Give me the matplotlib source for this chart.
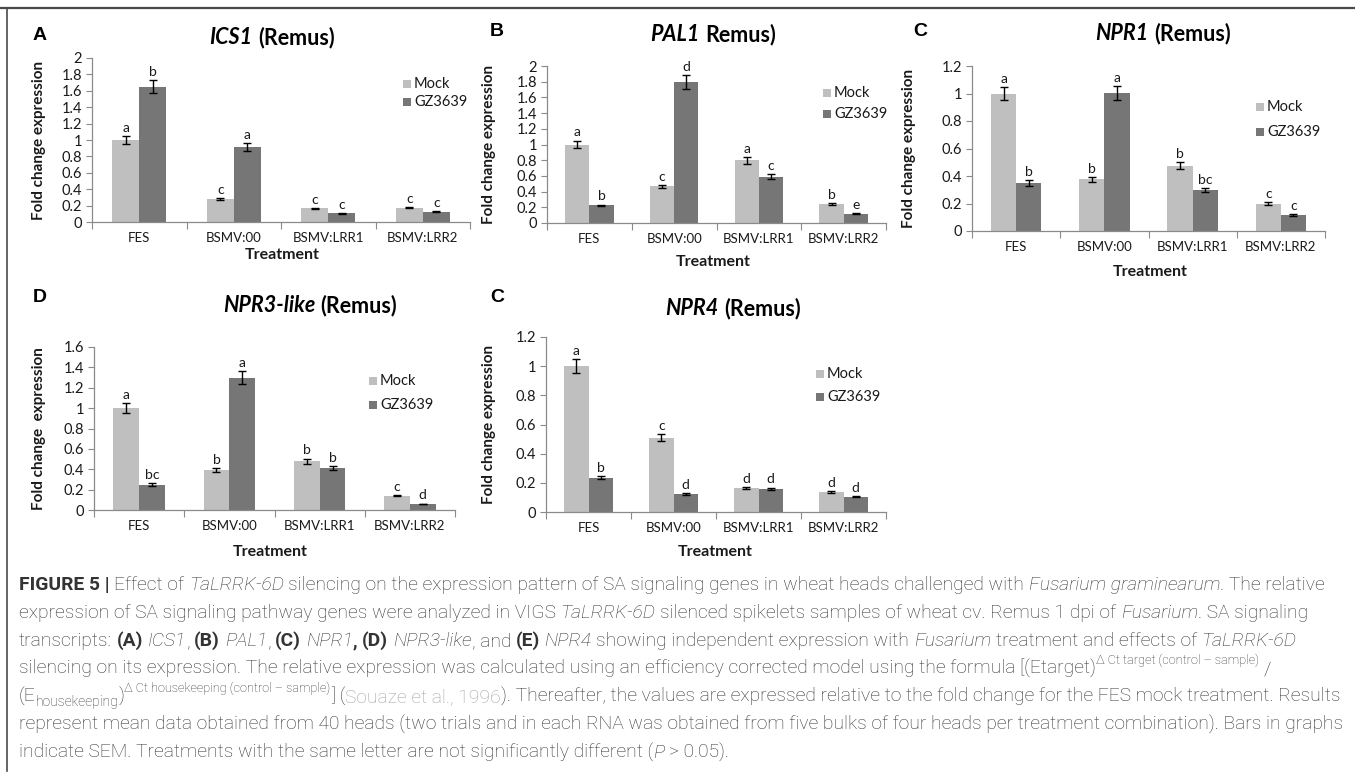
import numpy as np
import matplotlib
matplotlib.use('Agg')
import matplotlib.pyplot as plt
from matplotlib import font_manager
from matplotlib.lines import Line2D
from matplotlib.patches import Rectangle

W, H = 1355, 775

treatments = ['FES', 'BSMV:00', 'BSMV:LRR1', 'BSMV:LRR2']
series = ['Mock', 'GZ3639']

# A - ICS1
ics1_mock = [1.00, 0.28, 0.165, 0.175]
ics1_mock_err = [0.05, 0.015, 0.008, 0.010]
ics1_gz = [1.65, 0.91, 0.105, 0.125]
ics1_gz_err = [0.08, 0.05, 0.005, 0.006]
ics1_mock_let = ['a', 'c', 'c', 'c']
ics1_gz_let = ['b', 'a', 'c', 'c']

# B - PAL1
pal1_mock = [1.00, 0.465, 0.80, 0.24]
pal1_mock_err = [0.05, 0.02, 0.045, 0.01]
pal1_gz = [0.225, 1.80, 0.59, 0.12]
pal1_gz_err = [0.01, 0.09, 0.035, 0.005]
pal1_mock_let = ['a', 'c', 'a', 'b']
pal1_gz_let = ['b', 'd', 'c', 'e']

# C - NPR1
npr1_mock = [1.00, 0.375, 0.475, 0.20]
npr1_mock_err = [0.05, 0.02, 0.025, 0.01]
npr1_gz = [0.35, 1.005, 0.30, 0.115]
npr1_gz_err = [0.02, 0.05, 0.015, 0.006]
npr1_mock_let = ['a', 'b', 'b', 'c']
npr1_gz_let = ['b', 'a', 'bc', 'c']

# D - NPR3-like
npr3_mock = [1.00, 0.395, 0.48, 0.14]
npr3_mock_err = [0.05, 0.02, 0.025, 0.006]
npr3_gz = [0.25, 1.30, 0.415, 0.06]
npr3_gz_err = [0.012, 0.065, 0.02, 0.003]
npr3_mock_let = ['a', 'b', 'b', 'c']
npr3_gz_let = ['bc', 'a', 'b', 'd']

# E - NPR4
npr4_mock = [1.00, 0.51, 0.165, 0.138]
npr4_mock_err = [0.05, 0.025, 0.008, 0.007]
npr4_gz = [0.235, 0.125, 0.16, 0.105]
npr4_gz_err = [0.012, 0.006, 0.008, 0.005]
npr4_mock_let = ['a', 'c', 'd', 'd']
npr4_gz_let = ['b', 'd', 'd', 'd']

MOCK_C = '#bfbfbf'
GZ_C = '#767676'
AX_C = '#8a8a8a'
TXT_C = '#1a1a1a'
CAP_C = '#333333'

plt.rcParams['font.family'] = ['Lato', 'DejaVu Sans']

names = {f.name for f in font_manager.fontManager.ttflist}
cap_family = next((f for f in ['Liberation Sans Narrow', 'Roboto', 'Liberation Sans'] if f in names), 'DejaVu Sans')

fig = plt.figure(figsize=(W / 100, H / 100), dpi=100)
renderer = fig.canvas.get_renderer()


def fx(x):
    return x / W


def fy(y):
    return 1 - y / H


def text_w(s, props):
    if s == '':
        return 0.0
    t = fig.text(0, 0, '|' + s + '|', **props)
    w1 = t.get_window_extent(renderer).width
    t.set_text('||')
    w0 = t.get_window_extent(renderer).width
    t.remove()
    return w1 - w0


def seg_props(kind, size, family, color, light=False):
    p = dict(family=family, size=size, color=color, weight='light' if light else 'normal', style='normal')
    dy = 0.0
    if kind in ('b', 'bi'):
        p['weight'] = 'bold'
    if kind in ('i', 'bi'):
        p['style'] = 'italic'
    if kind == 'cite':
        p['color'] = '#a3a3a3'
    if kind == 'sup':
        p['size'] = size * 0.66
        dy = size * 100 / 72 * 0.5
    if kind == 'sub':
        p['size'] = size * 0.72
        dy = -size * 100 / 72 * 0.22
    return p, dy


def rich_line(x, y, segs, size, family, color, ha='left', draw=True, light=False):
    items = []
    total = 0.0
    for s, kind in segs:
        p, dy = seg_props(kind, size, family, color, light)
        core = s.strip(' ')
        lead = s[:len(s) - len(s.lstrip(' '))]
        trail = s[len(s.rstrip(' ')):]
        total += text_w(lead, p)
        items.append((core, p, dy, total))
        total += text_w(core, p) + text_w(trail, p)
    if draw:
        x0 = x - total / 2 if ha == 'center' else x
        for core, p, dy, off in items:
            if core:
                fig.text(fx(x0 + off), fy(y - dy), core, va='baseline', ha='left', **p)
    return total


def px_axes(l, t, r, b):
    return fig.add_axes([fx(l), fy(b), (r - l) / W, (b - t) / H])


def draw_panel(ax, mock, mock_err, gz, gz_err, mock_let, gz_let, ymax, ystep):
    x = np.arange(len(treatments))
    bw = 1 / 3.5
    ekw = dict(ecolor='black', elinewidth=1.0, capsize=3, capthick=1.0)
    ax.bar(x - bw / 2, mock, bw, color=MOCK_C, yerr=mock_err, error_kw=ekw, zorder=2)
    ax.bar(x + bw / 2, gz, bw, color=GZ_C, yerr=gz_err, error_kw=ekw, zorder=2)
    for xs, vals, errs, lets in ((x - bw / 2, mock, mock_err, mock_let), (x + bw / 2, gz, gz_err, gz_let)):
        for xi, v, e, s in zip(xs, vals, errs, lets):
            ax.annotate(s, (xi, v + e), xytext=(0, 1.5), textcoords='offset points',
                        ha='center', va='bottom', fontsize=10, color=TXT_C)
    ax.set_xlim(-0.5, len(treatments) - 0.5)
    ax.set_ylim(0, ymax)
    yt = np.arange(0, ymax + 1e-9, ystep)
    ax.set_yticks(yt)
    ax.set_yticklabels(['%g' % round(v, 2) for v in yt])
    ax.set_xticks(np.arange(-0.5, len(treatments), 1))
    ax.set_xticklabels([])
    ax.set_xticks(x, minor=True)
    ax.set_xticklabels(treatments, minor=True)
    ax.tick_params(axis='x', which='major', length=5, color=AX_C, width=0.8)
    ax.tick_params(axis='x', which='minor', length=0, pad=7, labelsize=9.5, labelcolor=TXT_C)
    ax.tick_params(axis='y', length=4, color=AX_C, width=0.8, labelsize=10.5, labelcolor=TXT_C, pad=3)
    for sp in ('top', 'right'):
        ax.spines[sp].set_visible(False)
    for sp in ('left', 'bottom'):
        ax.spines[sp].set_color(AX_C)
        ax.spines[sp].set_linewidth(0.9)


def legend(x, y, pitch):
    for i, (lab, c) in enumerate(zip(series, [MOCK_C, GZ_C])):
        yy = y + i * pitch
        fig.add_artist(Rectangle((fx(x), fy(yy + 4)), 8 / W, 8 / H, transform=fig.transFigure,
                                 color=c, lw=0))
        fig.text(fx(x + 11), fy(yy), lab, va='center', ha='left', fontsize=10.5, color=TXT_C)


def heading(letter, lx, ly, gene, rest, tx, ty):
    fig.text(fx(lx), fy(ly), letter, ha='center', va='center', fontsize=14,
             fontweight='bold', family='Liberation Sans', color='black')
    rich_line(tx, ty + 7, [(gene, 'bi'), (rest, 'b')], 15.5, 'Lato', 'black', ha='center')


panels = [
    dict(rect=(92, 58, 470, 222), data=(ics1_mock, ics1_mock_err, ics1_gz, ics1_gz_err, ics1_mock_let, ics1_gz_let),
         ymax=2.0, ystep=0.2, ylx=46, trx=282, try_=255, leg=(403, 84, 18),
         head=('A', 40, 36, 'ICS1', ' (Remus)', 272, 37), ylab='Fold change expression'),
    dict(rect=(547, 66, 886, 223), data=(pal1_mock, pal1_mock_err, pal1_gz, pal1_gz_err, pal1_mock_let, pal1_gz_let),
         ymax=2.0, ystep=0.2, ylx=496, trx=713, try_=262, leg=(823, 93, 21),
         head=('B', 497, 31, 'PAL1', ' Remus)', 713, 34), ylab='Fold change expression'),
    dict(rect=(972, 66, 1325, 231), data=(npr1_mock, npr1_mock_err, npr1_gz, npr1_gz_err, npr1_mock_let, npr1_gz_let),
         ymax=1.2, ystep=0.2, ylx=916, trx=1150, try_=272, leg=(1256, 107, 25),
         head=('C', 920, 32, 'NPR1', ' (Remus)', 1163, 33), ylab='Fold change expression'),
    dict(rect=(94, 347, 455, 510), data=(npr3_mock, npr3_mock_err, npr3_gz, npr3_gz_err, npr3_mock_let, npr3_gz_let),
         ymax=1.6, ystep=0.2, ylx=46, trx=270, try_=552, leg=(369, 381, 24),
         head=('D', 40, 297, 'NPR3-like', ' (Remus)', 310, 305), ylab='Fold change  expression'),
    dict(rect=(546, 337, 886, 512), data=(npr4_mock, npr4_mock_err, npr4_gz, npr4_gz_err, npr4_mock_let, npr4_gz_let),
         ymax=1.2, ystep=0.2, ylx=496, trx=715, try_=552, leg=(816, 374, 23),
         head=('C', 497, 298, 'NPR4', ' (Remus)', 733, 308), ylab='Fold change expression'),
]

for p in panels:
    l, t, r, b = p['rect']
    ax = px_axes(l, t, r, b)
    draw_panel(ax, *p['data'], p['ymax'], p['ystep'])
    ax.set_ylabel(p['ylab'], fontsize=11, fontweight='bold', color=TXT_C)
    ax.yaxis.set_label_coords((p['ylx'] - l) / (r - l), 0.5)
    fig.text(fx(p['trx']), fy(p['try_']), 'Treatment', ha='center', va='center',
             fontsize=11.5, fontweight='bold', color=TXT_C)
    legend(*p['leg'])
    heading(*p['head'])

# outer frame (top and left rules)
fig.add_artist(Line2D([0, 1], [fy(8), fy(8)], transform=fig.transFigure, color='#4a4a4a', lw=1.6))
fig.add_artist(Line2D([fx(7), fx(7)], [fy(8), fy(771)], transform=fig.transFigure, color='#4a4a4a', lw=1.2))

caption = [
    [('FIGURE 5 | ', 'b'), ('Effect of ', 'n'), ('TaLRRK-6D', 'i'),
     (' silencing on the expression pattern of SA signaling genes in wheat heads challenged with ', 'n'),
     ('Fusarium graminearum', 'i'), ('. The relative', 'n')],
    [('expression of SA signaling pathway genes were analyzed in VIGS ', 'n'), ('TaLRRK-6D', 'i'),
     (' silenced spikelets samples of wheat cv. Remus 1 dpi of ', 'n'), ('Fusarium', 'i'), ('. SA signaling', 'n')],
    [('transcripts: ', 'n'), ('(A) ', 'b'), ('ICS1', 'i'), (', ', 'n'), ('(B) ', 'b'), ('PAL1', 'i'), (', ', 'n'),
     ('(C) ', 'b'), ('NPR1', 'i'), (', ', 'b'), ('(D) ', 'b'), ('NPR3-like', 'i'), (', and ', 'n'), ('(E) ', 'b'),
     ('NPR4', 'i'), (' showing independent expression with ', 'n'), ('Fusarium', 'i'),
     (' treatment and effects of ', 'n'), ('TaLRRK-6D', 'i')],
    [('silencing on its expression. The relative expression was calculated using an efficiency corrected model using the formula [(Etarget)', 'n'),
     ('\u0394 Ct target (control \u2013 sample)', 'sup'), (' /', 'n')],
    [('(E', 'n'), ('housekeeping', 'sub'), (')', 'n'), ('\u0394 Ct housekeeping (control \u2013 sample)', 'sup'),
     ('] (', 'n'), ('Souaze et al., 1996', 'cite'),
     ('). Thereafter, the values are expressed relative to the fold change for the FES mock treatment. Results', 'n')],
    [('represent mean data obtained from 40 heads (two trials and in each RNA was obtained from five bulks of four heads per treatment combination). Bars in graphs', 'n')],
    [('indicate SEM. Treatments with the same letter are not significantly different (', 'n'), ('P', 'i'),
     (' > 0.05).', 'n')],
]

cap_x = 19
trial = 10.0
w5 = rich_line(cap_x, 0, caption[4], trial, cap_family, CAP_C, draw=False, light=True)
cap_size = trial * (1340 - cap_x) / w5
cap_y0 = 590
cap_dy = 28
for i, segs in enumerate(caption):
    rich_line(cap_x, cap_y0 + i * cap_dy, segs, cap_size, cap_family, CAP_C, light=True)

fig.savefig('out.png', dpi=100)
